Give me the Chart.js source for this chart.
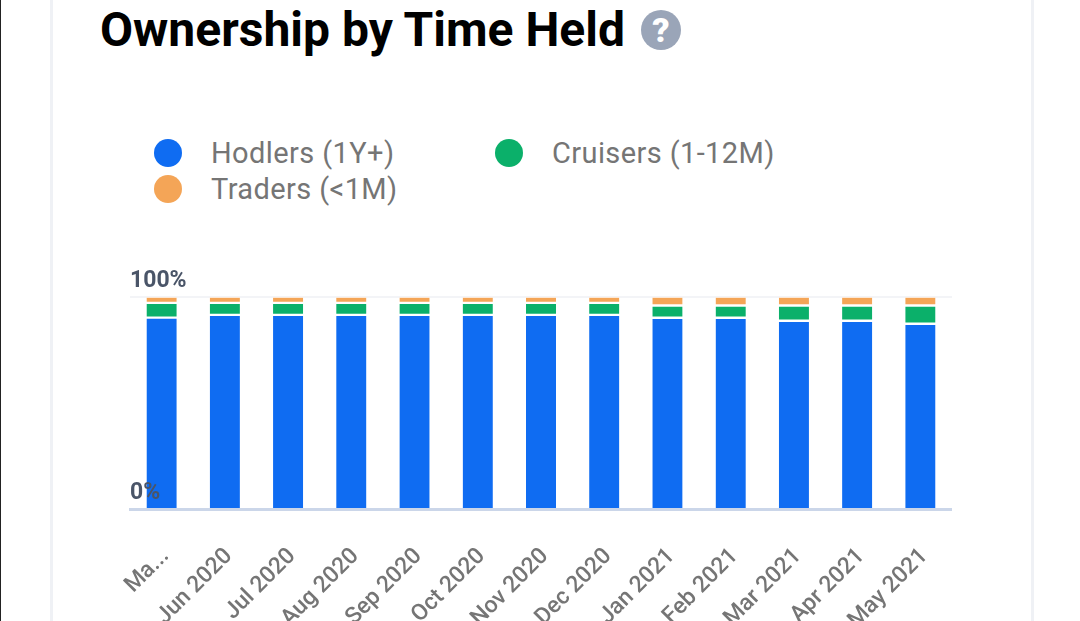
<!DOCTYPE html>
<html>
<head>
<meta charset="utf-8">
<script src="https://cdn.jsdelivr.net/npm/chart.js@4"></script>
<style>
  html, body { margin: 0; padding: 0; background: #fff; width: 1080px; height: 621px; overflow: hidden; font-family: Roboto, sans-serif; }
  #edge { position: absolute; left: 0; top: 0; width: 1px; height: 621px; background: #222; }
  #card { position: absolute; left: 50px; top: -10px; width: 978px; height: 640px; border-left: 3px solid #eff1f5; border-right: 3px solid #eff1f5; }
  #title { position: absolute; left: 100px; top: 2px; font-size: 48px; line-height: 56px; font-weight: 700; color: #000; white-space: nowrap; }
  #help { position: absolute; left: 641px; top: 10px; width: 40px; height: 40px; border-radius: 50%; background: #9aa5b8; color: #fff; font-size: 34px; font-weight: 900; line-height: 40px; text-align: center; }
  .legend-item { position: absolute; font-size: 29px; line-height: 36px; letter-spacing: 0.4px; color: #757575; white-space: nowrap; }
  .legend-dot { position: absolute; left: -57px; top: 4px; width: 28px; height: 28px; border-radius: 50%; }
  #chart-box { position: absolute; left: 90px; top: 260px; width: 862px; height: 361px; }
</style>
</head>
<body>
<div id="edge"></div>
<div id="card"></div>
<div id="title">Ownership by Time Held</div>
<div id="help">?</div>
<div id="legend"></div>
<div id="chart-box"><canvas id="chart" width="862" height="361"></canvas></div>
<script>
const categories = ['Ma...', 'Jun 2020', 'Jul 2020', 'Aug 2020', 'Sep 2020', 'Oct 2020', 'Nov 2020', 'Dec 2020', 'Jan 2021', 'Feb 2021', 'Mar 2021', 'Apr 2021', 'May 2021'];
const hodlers = [90.3, 91.6, 91.6, 91.6, 91.6, 91.6, 91.6, 91.6, 90.2, 90.2, 88.8, 88.8, 87.4];
const cruisers = [6.9, 5.6, 5.6, 5.6, 5.6, 5.6, 5.6, 5.6, 5.8, 5.8, 7.2, 7.2, 8.6];
const traders = [2.8, 2.8, 2.8, 2.8, 2.8, 2.8, 2.8, 2.8, 4.0, 4.0, 4.0, 4.0, 4.0];
const seriesNames = ['Hodlers (1Y+)', 'Cruisers (1-12M)', 'Traders (<1M)'];
const seriesColors = ['#0f6cf2', '#0bb06a', '#f4a557'];
const yTicks = [0, 100];

// legend is laid out in two fixed columns, so it is plain html
const legendSpots = [[211, 135], [552, 135], [211, 171]];
const legend = document.getElementById('legend');
seriesNames.forEach((name, i) => {
    const item = document.createElement('div');
    item.className = 'legend-item';
    item.style.left = legendSpots[i][0] + 'px';
    item.style.top = legendSpots[i][1] + 'px';
    item.textContent = name;
    const dot = document.createElement('span');
    dot.className = 'legend-dot';
    dot.style.background = seriesColors[i];
    item.appendChild(dot);
    legend.appendChild(item);
});

function makeDataset(i, values, border) {
    return {
        label: seriesNames[i],
        data: values,
        backgroundColor: seriesColors[i],
        borderColor: '#fff',
        borderWidth: border,
        borderSkipped: false,
        barThickness: 30,
        stack: 'time'
    };
}

new Chart(document.getElementById('chart').getContext('2d'), {
    type: 'bar',
    data: {
        labels: categories,
        datasets: [
            makeDataset(0, hodlers, { top: 1.5, bottom: 0, left: 0, right: 0 }),
            makeDataset(1, cruisers, { top: 1.5, bottom: 1.5, left: 0, right: 0 }),
            makeDataset(2, traders, { top: 1, bottom: 1.5, left: 0, right: 0 })
        ]
    },
    options: {
        responsive: false,
        animation: false,
        // left padding leaves canvas room for the first rotated label
        layout: { padding: { top: 37, left: 40, right: 0, bottom: 0 } },
        plugins: { legend: { display: false }, tooltip: { enabled: false }, title: { display: false } },
        scales: {
            x: {
                stacked: true,
                grid: { display: false },
                border: { color: '#cbd6e9', width: 3 },
                // rotated labels would otherwise pull the plot area in from both sides
                afterFit: scale => {
                    scale.height = 112;
                    scale.paddingLeft = 0;
                    scale.paddingRight = 0;
                },
                ticks: {
                    autoSkip: false,
                    minRotation: 45,
                    maxRotation: 45,
                    padding: 26,
                    labelOffset: 4,
                    color: '#757575',
                    font: { family: 'Roboto', size: 23, weight: '500' }
                }
            },
            y: {
                stacked: true,
                min: 0,
                max: 100,
                afterFit: scale => { scale.width = 0; },
                afterBuildTicks: scale => { scale.ticks = yTicks.map(v => ({ value: v })); },
                grid: { color: '#f3f4f7', lineWidth: 2, drawTicks: false },
                border: { display: false },
                ticks: {
                    mirror: true,
                    padding: 0,
                    labelOffset: -16,
                    z: 2,
                    color: '#4a5568',
                    font: { family: 'Roboto', size: 23, weight: '700' },
                    callback: v => v + '%'
                }
            }
        }
    }
});
</script>
</body>
</html>
